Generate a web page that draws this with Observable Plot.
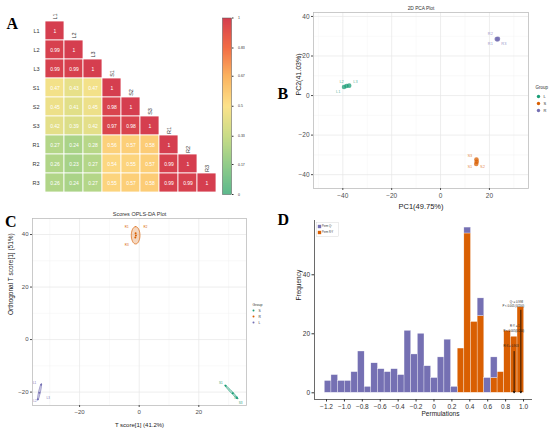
<!DOCTYPE html>
<html><head><meta charset="utf-8">
<script src="https://cdn.jsdelivr.net/npm/d3@7"></script>
<script src="https://cdn.jsdelivr.net/npm/@observablehq/plot@0.6"></script>
<style>
body{margin:0;background:#fff;}
#fig{position:relative;width:550px;height:435px;overflow:hidden;background:#fff;font-family:"Liberation Sans",Arial,sans-serif;}
#fig svg{position:absolute;overflow:visible;}
.letter{position:absolute;font:bold 16px "Liberation Serif","Times New Roman",serif;line-height:1;color:#000;}
</style></head><body><div id="fig"></div>
<script>
// ---------- Panel A data ----------
const names = ["L1","L2","L3","S1","S2","S3","R1","R2","R3"];
const corrRows = [
  [1],
  [0.99,1],
  [0.99,0.99,1],
  [0.47,0.43,0.47,1],
  [0.45,0.41,0.45,0.98,1],
  [0.42,0.39,0.42,0.97,0.98,1],
  [0.27,0.24,0.28,0.56,0.57,0.58,1],
  [0.26,0.23,0.27,0.54,0.55,0.57,0.99,1],
  [0.26,0.24,0.27,0.55,0.57,0.58,0.99,0.99,1]
];
const cbTicks = [0,0.17,0.33,0.5,0.67,0.83,1];
const cbColors = ["#5db98d","#92cc89","#c9dc87","#fce28a","#fbb35f","#f36d45","#d53e4f"];

// ---------- Panel B data ----------
const pcaSamples = ["L1","L2","L3","S1","S2","S3","R1","R2","R3"];
const pcaGroup = ["L","L","L","S","S","S","R","R","R"];
const pcaX = [-39.5,-38.5,-37.4,14.7,14.8,14.6,23.0,23.3,23.5];
const pcaY = [4.3,4.8,5.0,-32.3,-33.5,-34.6,28.6,28.4,28.7];
const pcaLabelX = [-41.9,-40.5,-34.8,12.0,17.2,12.0,20.4,20.4,25.9];
const pcaLabelY = [1.7,7.0,6.9,-36.2,-36.0,-30.2,26.0,31.3,26.1];
const pcaGroups = ["L","S","R"];
const pcaColors = ["#1b9e77","#d95f02","#7570b3"];
const pcaTicksX = [-40,-20,0,20];
const pcaTicksY = [-40,-20,0,20,40];
const pcaMinorX = [-50,-30,-10,10,30];
const pcaMinorY = [-30,-10,10,30];

// ---------- Panel C data ----------
const oplsSamples = ["S1","S2","S3","R1","R2","R3","L1","L2","L3"];
const oplsGroup = ["S","S","S","R","R","R","L","L","L"];
const oplsX = [29.0,31.4,32.8,-1.2,-1.1,-1.3,-32.9,-33.5,-34.0];
const oplsY = [-17.6,-20.4,-22.2,40.5,39.6,38.9,-17.2,-20.2,-22.7];
const oplsLabelX = [27.4,32.4,34.0,-4.2,2.1,-4.2,-35.1,-35.0,-30.5];
const oplsLabelY = [-16.6,-22.1,-24.2,42.9,42.9,36.1,-16.4,-23.4,-22.2];
const oplsGroups = ["S","R","L"];
const oplsColors = ["#1b9e77","#d95f02","#7570b3"];
const oplsEllCx = [30.9,-1.2,-33.45];
const oplsEllCy = [-19.9,39.7,-19.95];
const oplsEllA = [3.4,3.3,3.2];
const oplsEllB = [0.3,1.45,0.3];
const oplsEllAngle = [-50,90,79];
const oplsTicksX = [-20,0,20];
const oplsTicksY = [-20,0,20,40];
const oplsMinorX = [-30,-10,10,30];
const oplsMinorY = [-10,10,30];

// ---------- Panel D data ----------
const binStart = -1.219, binWidth = 0.0742;
const permQ2  = [4,6,4,4,7,14,2,10,8,7,8,6,21,13,20,9,5,12,18,2,0,2,0,6,5,7,0,0,0,0];
const permR2Y = [0,0,0,0,0,0,0,0,0,0,0,0,0,0,0,0,0,0,0,0,15,54,24,26,0,5,7,21,19,29];
const permSeries = ["Perm Q²","Perm R²Y"];
const permColors = ["#7570b3","#d95f02"];
const permTicks = [-1.2,-1.0,-0.8,-0.6,-0.4,-0.2,0,0.2,0.4,0.6,0.8,1.0];
const permTickLabels = ["−1.2","−1.0","−0.8","−0.6","−0.4","−0.2","0","0.2","0.4","0.6","0.8","1.0"];
const permYTicks = [0,20,40];
const arrowX = [0.895,0.97];
const arrowTop = [14,28];
const annotText = ["Q² = 0.998","P < 0.005 (0/200)","R²Y = 1","P < 0.005(0/200)","R²X = 0.903"];
const annotX = [0.92,0.886,0.903,0.892,0.86];
const annotY = [30.9,29.4,22.5,20.8,15.8];

// ---------- helpers ----------
const fig = document.getElementById("fig");
const base = {style:{background:"transparent", fontFamily:"Liberation Sans, Arial, sans-serif", overflow:"visible"}};
function place(el, left, top){
  el.style.position="absolute"; el.style.left=left+"px"; el.style.top=top+"px";
  el.style.background="transparent"; el.style.maxWidth="none";
  fig.appendChild(el); return el;
}
function letter(t,left,top){const d=document.createElement("div");d.className="letter";d.textContent=t;d.style.left=left+"px";d.style.top=top+"px";fig.appendChild(d);}

// ---------- Panel A ----------
const corrCells = corrRows.flatMap((row,i)=>row.map((v,j)=>({row:names[i], col:names[j], v})));
const heat = Plot.plot({...base, width:225, height:210, marginLeft:42, marginRight:6, marginTop:18, marginBottom:16,
  x:{domain:names, padding:0, axis:null},
  y:{domain:names, padding:0},
  color:{type:"linear", domain:cbTicks, range:cbColors},
  marks:[
    Plot.cell(corrCells,{x:"col",y:"row",fill:"v",stroke:"white",strokeWidth:0.8}),
    Plot.text(corrCells,{x:"col",y:"row",text:d=>String(d.v),fill:"white",fontSize:5}),
    Plot.text(names,{x:d=>d,y:d=>d,text:d=>d,rotate:-90,dy:-14.5,fontSize:5.5,fill:"#333"}),
    Plot.axisY({tickSize:0,tickPadding:3,fontSize:5.5,color:"#333",label:null})
  ]});
place(heat,0,0);

const cbar = Plot.plot({...base, width:40, height:210, marginLeft:7, marginRight:24, marginTop:17.5, marginBottom:16,
  x:{domain:[0,1], axis:null}, y:{domain:[0,1]},
  color:{type:"linear", domain:cbTicks, range:cbColors},
  marks:[
    Plot.raster({x1:0,x2:1,y1:0,y2:1,fill:(x,y)=>y,width:4,height:200,imageRendering:"auto"}),
    Plot.frame({stroke:"#555",strokeWidth:0.5}),
    Plot.axisY({anchor:"right",ticks:cbTicks,tickFormat:d=>String(d),tickSize:1.5,tickPadding:5,fontSize:3.5,color:"#333",label:null})
  ]});
place(cbar,215,0);

// ---------- Panel B ----------
const pcaColor = Object.fromEntries(pcaGroups.map((g,i)=>[g,pcaColors[i]]));
const pcaPts = pcaSamples.map((s,i)=>({s, g:pcaGroup[i], x:pcaX[i], y:pcaY[i], lx:pcaLabelX[i], ly:pcaLabelY[i]}));
const pca = Plot.plot({...base, width:280, height:215, marginLeft:43, marginRight:22, marginTop:12, marginBottom:27,
  x:{domain:[-52,36]}, y:{domain:[-47,42]},
  marks:[
    Plot.gridX({ticks:pcaMinorX,stroke:"#f3f3f3",strokeOpacity:1,strokeWidth:0.5}),
    Plot.gridY({ticks:pcaMinorY,stroke:"#f3f3f3",strokeOpacity:1,strokeWidth:0.5}),
    Plot.gridX({ticks:pcaTicksX,stroke:"#e6e6e6",strokeOpacity:1,strokeWidth:0.7}),
    Plot.gridY({ticks:pcaTicksY,stroke:"#e6e6e6",strokeOpacity:1,strokeWidth:0.7}),
    Plot.frame({stroke:"#bdbdbd",strokeWidth:0.8}),
    Plot.axisX({ticks:pcaTicksX,tickSize:2,tickPadding:2.5,fontSize:6.5,color:"#4d4d4d",label:null}),
    Plot.axisY({ticks:pcaTicksY,tickSize:2,tickPadding:2,fontSize:6.5,color:"#4d4d4d",label:null}),
    Plot.dot(pcaPts,{x:"x",y:"y",r:2.3,fill:d=>pcaColor[d.g],fillOpacity:0.75}),
    Plot.text(pcaPts,{x:"lx",y:"ly",text:"s",fill:d=>pcaColor[d.g],fillOpacity:0.75,fontSize:4}),
    Plot.text(["2D PCA Plot"],{frameAnchor:"top",dy:-6,fontSize:4.8,fill:"#333"}),
    Plot.text(["PC1(49.75%)"],{frameAnchor:"bottom",dy:20,fontSize:7.5,fill:"#222"}),
    Plot.text(["PC2(41.03%)"],{frameAnchor:"left",dx:-15,dy:-5,rotate:-90,fontSize:7,fill:"#222"})
  ]});
place(pca,270,0);

const legB = Plot.plot({...base, width:16, height:35, marginTop:15, marginBottom:5, marginLeft:0, marginRight:0,
  y:{type:"point", domain:pcaGroups, padding:0, axis:null},
  marks:[
    Plot.text(["Group"],{frameAnchor:"top-left",dx:1,dy:-10,fontSize:4.5,textAnchor:"start",fill:"#333"}),
    Plot.dot(pcaGroups,{y:d=>d,frameAnchor:"left",dx:4,r:1.7,fill:d=>pcaColor[d]}),
    Plot.text(pcaGroups,{y:d=>d,frameAnchor:"left",dx:9,text:d=>d,textAnchor:"start",fontSize:4,fill:"#333"})
  ]});
place(legB,534,80);

// ---------- Panel C ----------
const oplsColor = Object.fromEntries(oplsGroups.map((g,i)=>[g,oplsColors[i]]));
const oplsPts = oplsSamples.map((s,i)=>({s, g:oplsGroup[i], x:oplsX[i], y:oplsY[i], lx:oplsLabelX[i], ly:oplsLabelY[i]}));
const ellT = d3.range(0,361,6);
const ellPts = oplsGroups.map((g,k)=>{
  const th = oplsEllAngle[k]*Math.PI/180;
  return ellT.map(t=>{const tr=t*Math.PI/180; const u=oplsEllA[k]*Math.cos(tr), v=oplsEllB[k]*Math.sin(tr);
    return {g, x:oplsEllCx[k]+u*Math.cos(th)-v*Math.sin(th), y:oplsEllCy[k]+u*Math.sin(th)+v*Math.cos(th)};});
});
const opls = Plot.plot({...base, width:270, height:230, marginLeft:32, marginRight:24, marginTop:13, marginBottom:30,
  x:{domain:[-35.8,36]}, y:{domain:[-25.1,46.1]},
  marks:[
    Plot.gridX({ticks:oplsMinorX,stroke:"#f3f3f3",strokeOpacity:1,strokeWidth:0.5}),
    Plot.gridY({ticks:oplsMinorY,stroke:"#f3f3f3",strokeOpacity:1,strokeWidth:0.5}),
    Plot.gridX({ticks:oplsTicksX,stroke:"#e6e6e6",strokeOpacity:1,strokeWidth:0.7}),
    Plot.gridY({ticks:oplsTicksY,stroke:"#e6e6e6",strokeOpacity:1,strokeWidth:0.7}),
    Plot.frame({stroke:"#bdbdbd",strokeWidth:0.8}),
    Plot.axisX({ticks:oplsTicksX,tickSize:2,tickPadding:2.5,fontSize:6,color:"#4d4d4d",label:null}),
    Plot.axisY({ticks:oplsTicksY,tickSize:2,tickPadding:2,fontSize:6,color:"#4d4d4d",label:null}),
    ...ellPts.map((pts,k)=>Plot.line(pts,{x:"x",y:"y",stroke:oplsColors[k],fill:oplsColors[k],fillOpacity:0.25,strokeWidth:0.7})),
    Plot.dot(oplsPts,{x:"x",y:"y",r:1,fill:d=>oplsColor[d.g]}),
    Plot.text(oplsPts,{x:"lx",y:"ly",text:"s",fill:d=>oplsColor[d.g],fontSize:3,ariaLabel:"boxlab"}),
    Plot.text(["Scores OPLS-DA Plot"],{frameAnchor:"top",dy:-6,fontSize:5.5,fill:"#333"}),
    Plot.text(["T score[1] (41.2%)"],{frameAnchor:"bottom",dy:21.7,fontSize:6,fill:"#222"}),
    Plot.text(["Orthogonal T score[1] (51%)"],{frameAnchor:"left",dx:-22,dy:3,rotate:-90,fontSize:6.5,fill:"#222"})
  ]});
place(opls,0,205);
opls.querySelectorAll('g[aria-label="boxlab"] text').forEach(t=>{
  const b=t.getBBox();
  const r=document.createElementNS("http://www.w3.org/2000/svg","rect");
  r.setAttribute("x",b.x-0.8); r.setAttribute("y",b.y-0.3);
  r.setAttribute("width",b.width+1.6); r.setAttribute("height",b.height+0.6);
  r.setAttribute("rx",0.6); r.setAttribute("fill","white");
  r.setAttribute("stroke",t.getAttribute("fill")||"#999"); r.setAttribute("stroke-width",0.35);
  const tr=t.getAttribute("transform"); if(tr) r.setAttribute("transform",tr);
  t.parentNode.insertBefore(r,t);
});

const legC = Plot.plot({...base, width:20, height:28, marginTop:11, marginBottom:4, marginLeft:0, marginRight:0,
  y:{type:"point", domain:oplsGroups, padding:0, axis:null},
  marks:[
    Plot.text(["Group"],{frameAnchor:"top-left",dx:2,dy:-6.5,fontSize:3.6,textAnchor:"start",fill:"#333"}),
    Plot.dot(oplsGroups,{y:d=>d,frameAnchor:"left",dx:3,r:1,fill:d=>oplsColor[d]}),
    Plot.text(oplsGroups,{y:d=>d,frameAnchor:"left",dx:8,text:d=>d,textAnchor:"start",fontSize:3.3,fill:"#333"})
  ]});
place(legC,250,298);

// ---------- Panel D ----------
const permColor = Object.fromEntries(permSeries.map((s,i)=>[s,permColors[i]]));
const bins = [];
permR2Y.forEach((c,i)=>bins.push({series:permSeries[1], x1:binStart+i*binWidth, x2:binStart+(i+1)*binWidth, count:c}));
permQ2.forEach((c,i)=>bins.push({series:permSeries[0], x1:binStart+i*binWidth, x2:binStart+(i+1)*binWidth, count:c}));
const permXDom=[-1.334,1.1], permYDom=[-2.27,58.4];
const arrows = arrowX.map((x,i)=>({x, y1:arrowTop[i], y2:0}));
const annots = annotText.map((t,i)=>({t, x:annotX[i], y:annotY[i]}));
const perm = Plot.plot({...base, width:280, height:220, marginLeft:44, marginRight:18, marginTop:5, marginBottom:36,
  x:{domain:permXDom}, y:{domain:permYDom},
  color:{domain:permSeries, range:permColors},
  marks:[
    Plot.rectY(bins.filter(d=>d.count>0),{x1:"x1",x2:"x2",y:"count",fill:"series",stroke:"white",strokeWidth:0.4,strokeOpacity:0.8,order:[permSeries[1],permSeries[0]]}),
    Plot.ruleX([permXDom[0]],{stroke:"#444",strokeWidth:0.8}),
    Plot.ruleY([permYDom[0]],{stroke:"#444",strokeWidth:0.8}),
    Plot.axisX({ticks:permTicks,tickFormat:d=>permTickLabels[permTicks.indexOf(d)],tickSize:2.5,tickPadding:2,fontSize:6.5,color:"#333",label:null}),
    Plot.axisY({ticks:permYTicks,tickSize:2.5,tickPadding:2,fontSize:6.5,color:"#333",label:null}),
    Plot.arrow(arrows,{x1:"x",x2:"x",y1:"y1",y2:"y2",stroke:"black",strokeWidth:0.8,headLength:3}),
    Plot.text(annots,{x:"x",y:"y",text:"t",fontSize:2.8,fill:"#222"}),
    Plot.text(["Permulations"],{frameAnchor:"bottom",dx:17,dy:16.7,fontSize:6.5,fill:"#222"}),
    Plot.text(["Frequency"],{frameAnchor:"left",dx:-15.7,dy:-9.5,rotate:-90,fontSize:6.5,fill:"#222"})
  ]});
place(perm,270,215);

const legD = Plot.plot({...base, width:22.3, height:14.3, marginTop:4.3, marginBottom:4, marginLeft:0, marginRight:0,
  y:{type:"point", domain:permSeries, padding:0, axis:null},
  marks:[
    Plot.frame({stroke:"#d0d0d0",strokeWidth:0.4,fill:"white",insetTop:-4.3,insetBottom:-4}),
    Plot.dot(permSeries,{y:d=>d,frameAnchor:"left",dx:3,symbol:"square",r:1.9,fill:d=>permColor[d]}),
    Plot.text(permSeries,{y:d=>d,frameAnchor:"left",dx:5.5,text:d=>d,textAnchor:"start",fontSize:2.6,fill:"#333"})
  ]});
place(legD,315.7,221.7);

// ---------- panel letters ----------
letter("A",6.5,16); letter("B",277.5,86); letter("C",5,214); letter("D",277.5,212);
</script></body></html>
